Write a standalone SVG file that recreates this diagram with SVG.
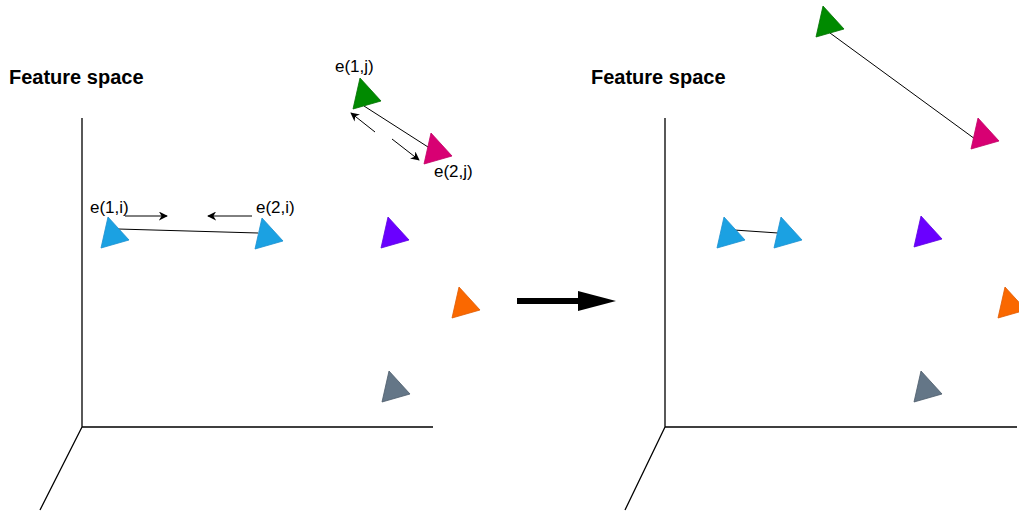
<svg xmlns="http://www.w3.org/2000/svg" width="1019" height="515" viewBox="0 0 1019 515">
<style>
.ax{stroke:#000;stroke-width:1.3;fill:none}
.ln{stroke:#000;stroke-width:1;fill:none}
.title{font-family:"Liberation Sans",Arial,sans-serif;font-weight:bold;font-size:20px;fill:#000}
.lbl{font-family:"Liberation Sans",Arial,sans-serif;font-size:17px;fill:#000}
.blue{fill:#1ba1e2;stroke:#1b8fd0}
.purple{fill:#6a00ff;stroke:#5a00e0}
.orange{fill:#fa6800;stroke:#e05a00}
.gray{fill:#647687;stroke:#4b5b6a}
.green{fill:#008a00;stroke:#007000}
.magenta{fill:#d80073;stroke:#c00065}
</style>
<defs>
<path id="tri" d="M7,0 L28,23 L0,31 Z" stroke-width="0.8"/>
<marker id="ah" viewBox="0 0 10 10" refX="9" refY="5" markerWidth="9" markerHeight="9" markerUnits="userSpaceOnUse" orient="auto">
<path d="M0,0 L10,5 L0,10 L3,5 Z" fill="#000"/>
</marker>
</defs>
<rect width="1019" height="515" fill="#fff"/>
<g id="axes-left">
<path class="ax" d="M82,118 V427 H433 M82,427 L40,510"/>
</g>
<g id="axes-right">
<path class="ax" d="M665,118 V427 H1017 M665,427 L625,510"/>
</g>
<g id="titles">
<text class="title" x="9" y="84">Feature space</text>
<text class="title" x="591" y="84">Feature space</text>
</g>
<g id="connectors">
<line class="ln" x1="118" y1="229" x2="258" y2="233"/>
<line class="ln" x1="364" y1="106" x2="428" y2="147"/>
<line class="ln" x1="375" y1="132" x2="351" y2="113" marker-end="url(#ah)"/>
<line class="ln" x1="392" y1="139" x2="419" y2="160" marker-end="url(#ah)"/>
<line class="ln" x1="125" y1="216" x2="167" y2="216" marker-end="url(#ah)"/>
<line class="ln" x1="252" y1="216" x2="208" y2="216" marker-end="url(#ah)"/>
<line class="ln" x1="734" y1="230" x2="778" y2="233"/>
<line class="ln" x1="830" y1="33" x2="975" y2="139"/>
<g id="big-arrow">
<rect x="517" y="298" width="63" height="6" fill="#000"/>
<path d="M578,291 L616,301 L578,311 Z" fill="#000"/>
</g>
</g>
<g id="n-blue1-l"><use href="#tri" class="blue" x="101" y="217"/></g>
<g id="n-blue2-l"><use href="#tri" class="blue" x="255" y="218"/></g>
<g id="n-purple-l"><use href="#tri" class="purple" x="381" y="217"/></g>
<g id="n-orange-l"><use href="#tri" class="orange" x="452" y="287"/></g>
<g id="n-gray-l"><use href="#tri" class="gray" x="382" y="371"/></g>
<g id="n-green-l"><use href="#tri" class="green" x="353" y="78"/></g>
<g id="n-magenta-l"><use href="#tri" class="magenta" x="424" y="133"/></g>
<g id="n-blue1-r"><use href="#tri" class="blue" x="717" y="217"/></g>
<g id="n-blue2-r"><use href="#tri" class="blue" x="774" y="217"/></g>
<g id="n-green-r"><use href="#tri" class="green" x="816" y="6"/></g>
<g id="n-magenta-r"><use href="#tri" class="magenta" x="971" y="118"/></g>
<g id="n-purple-r"><use href="#tri" class="purple" x="914" y="216"/></g>
<g id="n-orange-r"><use href="#tri" class="orange" x="998" y="287"/></g>
<g id="n-gray-r"><use href="#tri" class="gray" x="914" y="371"/></g>
<g id="labels">
<text class="lbl" x="90" y="213">e(1,i)</text>
<text class="lbl" x="256" y="213">e(2,i)</text>
<text class="lbl" x="335" y="72">e(1,j)</text>
<text class="lbl" x="434" y="177">e(2,j)</text>
</g>
</svg>
